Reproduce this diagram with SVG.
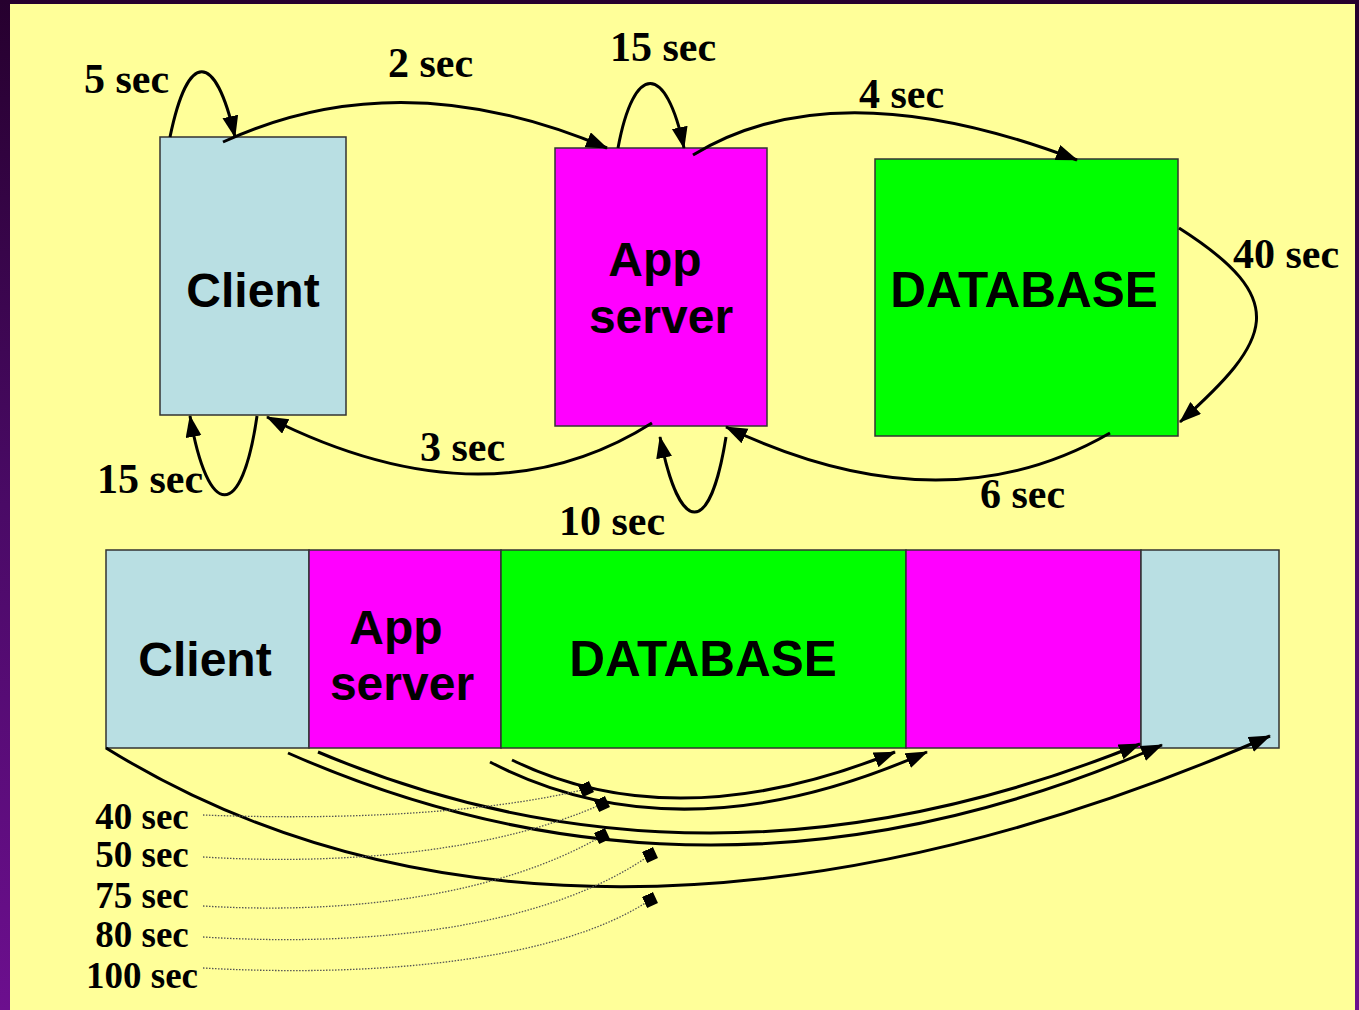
<svg xmlns="http://www.w3.org/2000/svg" width="1359" height="1010" viewBox="0 0 1359 1010">
  <defs>
    <linearGradient id="frame" x1="0" y1="0" x2="0" y2="1">
      <stop offset="0" stop-color="#26002e"/>
      <stop offset="0.5" stop-color="#4a0a66"/>
      <stop offset="1" stop-color="#6c0f8e"/>
    </linearGradient>
    <marker id="arrow" markerUnits="userSpaceOnUse" markerWidth="24" markerHeight="18" refX="21" refY="8" orient="auto">
      <path d="M0,0 L22,8 L0,16 Z" fill="#000"/>
    </marker>
    <marker id="sq" markerUnits="userSpaceOnUse" markerWidth="14" markerHeight="14" refX="6" refY="6" orient="-25">
      <rect x="0" y="0" width="12" height="12" fill="#000"/>
    </marker>
  </defs>
  <style>
    .node { stroke: #333; stroke-width: 1.5; }
    .client { fill: #b9dfe3; }
    .app { fill: #ff00ff; }
    .db { fill: #00ff00; }
    .ntext { font-family: "Liberation Sans", Arial, sans-serif; font-weight: bold; font-size: 48px; fill: #000; text-anchor: middle; }
    .dbtext { font-size: 49.5px; }
    .lbl { font-family: "Liberation Serif", "Times New Roman", serif; font-weight: bold; font-size: 42px; fill: #000; }
    .lbl2 { font-family: "Liberation Serif", "Times New Roman", serif; font-weight: bold; font-size: 37px; fill: #000; text-anchor: middle; }
    .conn { fill: none; stroke: #000; stroke-width: 3; }
    .dot { fill: none; stroke: #555; stroke-width: 1.3; stroke-dasharray: 1.5 1.5; }
  </style>

  <!-- background frame -->
  <rect x="0" y="0" width="1359" height="1010" fill="url(#frame)"/>
  <rect x="10" y="4" width="1345" height="1006" fill="#ffff99"/>

  <!-- top nodes -->
  <g id="client-top">
    <rect class="node client" x="160" y="137" width="186" height="278"/>
    <text class="ntext" x="253" y="307">Client</text>
  </g>
  <g id="app-top">
    <rect class="node app" x="555" y="148" width="212" height="278"/>
    <text class="ntext" x="655" y="276">App</text>
    <text class="ntext" x="661" y="333">server</text>
  </g>
  <g id="db-top">
    <rect class="node db" x="875" y="159" width="303" height="277"/>
    <text class="ntext dbtext" x="1024" y="307">DATABASE</text>
  </g>

  <!-- bottom bar -->
  <g id="bar-client">
    <rect class="node client" x="106" y="550" width="203" height="198"/>
    <text class="ntext" x="205" y="676">Client</text>
  </g>
  <g id="bar-app">
    <rect class="node app" x="309" y="550" width="192" height="198"/>
    <text class="ntext" x="396" y="644">App</text>
    <text class="ntext" x="402" y="700">server</text>
  </g>
  <g id="bar-db">
    <rect class="node db" x="501" y="550" width="405" height="198"/>
    <text class="ntext dbtext" x="703" y="676">DATABASE</text>
  </g>
  <g id="bar-app2">
    <rect class="node app" x="906" y="550" width="235" height="198"/>
  </g>
  <g id="bar-client2">
    <rect class="node client" x="1141" y="550" width="138" height="198"/>
  </g>

  <!-- connectors -->
  <g id="connectors">
    <path class="conn" d="M170,137 C188,50 215,50 235,137" marker-end="url(#arrow)"/>
    <path class="conn" d="M223,142 Q400,60 607,148" marker-end="url(#arrow)"/>
    <path class="conn" d="M618,148 C634,62 666,62 684,148" marker-end="url(#arrow)"/>
    <path class="conn" d="M693,155 Q835,68 1077,160" marker-end="url(#arrow)"/>
    <path class="conn" d="M1179,228 C1292,300 1272,340 1180,422" marker-end="url(#arrow)"/>
    <path class="conn" d="M1110,433 Q942,530 726,427" marker-end="url(#arrow)"/>
    <path class="conn" d="M726,437 C710,537 680,537 660,437" marker-end="url(#arrow)"/>
    <path class="conn" d="M652,423 Q486,528 267,417" marker-end="url(#arrow)"/>
    <path class="conn" d="M257,416 C242,521 208,521 190,416" marker-end="url(#arrow)"/>

    <path class="conn" d="M512,760 Q676,840 895,752" marker-end="url(#arrow)"/>
    <path class="conn" d="M490,762 Q681,861 927,752" marker-end="url(#arrow)"/>
    <path class="conn" d="M318,752 Q711,918 1140,744" marker-end="url(#arrow)"/>
    <path class="conn" d="M288,753 Q715,941 1162,745" marker-end="url(#arrow)"/>
    <path class="conn" d="M106,748 C400,930 800,940 1270,736" marker-end="url(#arrow)"/>

    <path class="dot" d="M203,815 C330,820 480,815 586,789" marker-end="url(#sq)"/>
    <path class="dot" d="M203,857 C350,866 500,850 602,804" marker-end="url(#sq)"/>
    <path class="dot" d="M203,906 C350,915 500,895 602,836" marker-end="url(#sq)"/>
    <path class="dot" d="M203,937 C380,948 550,925 650,855" marker-end="url(#sq)"/>
    <path class="dot" d="M203,968 C380,978 560,960 650,900" marker-end="url(#sq)"/>
  </g>

  <!-- labels -->
  <g id="labels">
    <text class="lbl" x="84" y="93">5 sec</text>
    <text class="lbl" x="388" y="77">2 sec</text>
    <text class="lbl" x="610" y="61">15 sec</text>
    <text class="lbl" x="859" y="108">4 sec</text>
    <text class="lbl" x="1233" y="268">40 sec</text>
    <text class="lbl" x="97" y="493">15 sec</text>
    <text class="lbl" x="420" y="461">3 sec</text>
    <text class="lbl" x="559" y="535">10 sec</text>
    <text class="lbl" x="980" y="508">6 sec</text>

    <text class="lbl2" x="142" y="829">40 sec</text>
    <text class="lbl2" x="142" y="867">50 sec</text>
    <text class="lbl2" x="142" y="908">75 sec</text>
    <text class="lbl2" x="142" y="947">80 sec</text>
    <text class="lbl2" x="142" y="988">100 sec</text>
  </g>
</svg>
